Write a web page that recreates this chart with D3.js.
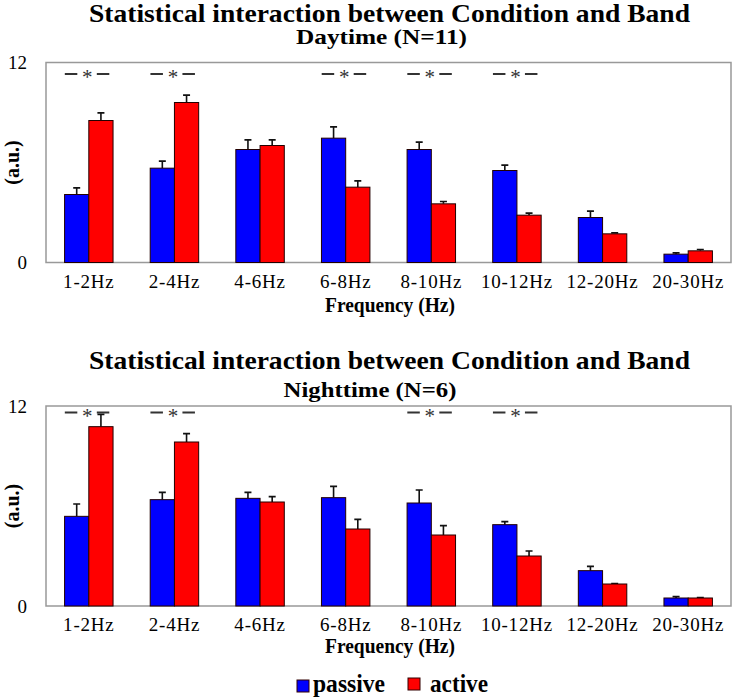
<!DOCTYPE html>
<html><head><meta charset="utf-8">
<script src="https://cdn.jsdelivr.net/npm/d3@7"></script>
<style>
body{margin:0;background:#fff;}
svg{display:block;}
text{font-family:"Liberation Serif","Times New Roman",serif;}
</style></head>
<body>
<svg id="c" width="735" height="699"></svg>
<script>
const categories = ["1-2Hz","2-4Hz","4-6Hz","6-8Hz","8-10Hz","10-12Hz","12-20Hz","20-30Hz"];
const series = ["passive","active"];
const colors = ["#0000FF","#FF0000"];
const yTicks = [0,12];

const dayPassive    = [4.08,5.66,6.78,7.46,6.78,5.52,2.70,0.50];
const dayPassiveErr = [0.40,0.42,0.58,0.68,0.44,0.32,0.38,0.08];
const dayActive     = [8.52,9.60,7.02,4.52,3.52,2.84,1.72,0.70];
const dayActiveErr  = [0.46,0.44,0.34,0.38,0.14,0.12,0.06,0.08];
const daySig = ["1-2Hz","2-4Hz","6-8Hz","8-10Hz","10-12Hz"];

const nightPassive    = [5.38,6.38,6.46,6.50,6.18,4.88,2.12,0.48];
const nightPassiveErr = [0.74,0.44,0.36,0.68,0.78,0.18,0.26,0.08];
const nightActive     = [10.76,9.84,6.24,4.62,4.26,3.00,1.32,0.48];
const nightActiveErr  = [0.74,0.50,0.32,0.58,0.56,0.30,0.02,0.03];
const nightSig = ["1-2Hz","2-4Hz","8-10Hz","10-12Hz"];

const svg = d3.select("#c");
const L = 46, R = 731;

function panel(cfg){
  const g = svg.append("g");
  const x0 = d3.scaleBand().domain(categories).range([L,R]).paddingInner(0.434).paddingOuter(0.217);
  const x1 = d3.scaleBand().domain(series).range([0,x0.bandwidth()]).padding(0);
  const y = d3.scaleLinear().domain([0,12]).range([cfg.bottom,cfg.top]);

  // titles
  g.append("text").attr("x",389.5).attr("y",cfg.titleY).attr("text-anchor","middle")
    .attr("font-weight","bold").attr("font-size",26).attr("textLength",601).attr("lengthAdjust","spacingAndGlyphs")
    .text("Statistical interaction between Condition and Band");
  g.append("text").attr("x",cfg.subX).attr("y",cfg.subY).attr("text-anchor","middle")
    .attr("font-weight","bold").attr("font-size",22).attr("textLength",cfg.subW).attr("lengthAdjust","spacingAndGlyphs")
    .text(cfg.subtitle);

  // frame
  g.append("rect").attr("x",L).attr("y",cfg.top).attr("width",R-L).attr("height",cfg.bottom-cfg.top)
    .attr("fill","none").attr("stroke","#999").attr("stroke-width",1.5);

  // y axis labels
  const ya = g.append("g").attr("transform",`translate(${L},0)`)
    .call(d3.axisLeft(y).tickValues(yTicks).tickSize(0).tickPadding(19).tickFormat(d3.format("d")));
  ya.select(".domain").remove();
  ya.selectAll("text").attr("font-size",19).attr("fill","#000")
    .style("font-family",'"Liberation Serif","Times New Roman",serif');

  g.append("text").attr("transform",`translate(19,${(cfg.top+cfg.bottom)/2}) rotate(-90)`)
    .attr("text-anchor","middle").attr("font-weight","bold").attr("font-size",20).text("(a.u.)");

  // bars
  const rows = categories.map((c,i)=>({cat:c, vals:[
    {s:"passive",v:cfg.passive[i],e:cfg.passiveErr[i],c:colors[0]},
    {s:"active",v:cfg.active[i],e:cfg.activeErr[i],c:colors[1]}]}));
  const grp = g.selectAll(".grp").data(rows).enter().append("g")
    .attr("transform",d=>`translate(${x0(d.cat)},0)`);
  grp.selectAll(".eb").data(d=>d.vals).enter().append("path")
    .attr("d",d=>{const cx=x1(d.s)+x1.bandwidth()/2, yt=y(d.v+d.e), yb=y(d.v);
      return `M${cx},${yb}V${yt}M${cx-3.5},${yt}H${cx+3.5}`;})
    .attr("stroke","#111").attr("stroke-width",1.6).attr("fill","none");
  grp.selectAll(".bar").data(d=>d.vals).enter().append("rect")
    .attr("x",d=>x1(d.s)).attr("width",x1.bandwidth())
    .attr("y",d=>y(d.v)).attr("height",d=>y(0)-y(d.v))
    .attr("fill",d=>d.c).attr("stroke","#220000").attr("stroke-width",1);

  // x labels
  const xa = g.append("g").attr("transform",`translate(0,${cfg.bottom})`)
    .call(d3.axisBottom(x0).tickSize(0).tickPadding(12));
  xa.select(".domain").remove();
  xa.selectAll("text").attr("font-size",19).attr("fill","#000").attr("letter-spacing",0.8)
    .style("font-family",'"Liberation Serif","Times New Roman",serif');

  g.append("text").attr("x",390).attr("y",cfg.xTitleY).attr("text-anchor","middle")
    .attr("font-weight","bold").attr("font-size",20).attr("textLength",130).attr("lengthAdjust","spacingAndGlyphs")
    .text("Frequency (Hz)");

  // significance markers
  const sy = cfg.sigY;
  const sg = g.selectAll(".sig").data(cfg.sig).enter().append("g")
    .attr("transform",d=>`translate(${x0(d)+x0.bandwidth()/2-1.5},${sy})`);
  sg.append("path").attr("d","M-22.5,0H-10M9.5,0H22").attr("stroke","#333").attr("stroke-width",1.8);
  sg.append("text").attr("x",0).attr("y",10).attr("text-anchor","middle").attr("font-size",21).attr("fill","#333").text("*");
}

panel({top:62.5,bottom:262.5,titleY:22,subY:44,subX:381.5,subW:171,subtitle:"Daytime (N=11)",
  xTitleY:312,sigY:74,passive:dayPassive,passiveErr:dayPassiveErr,active:dayActive,activeErr:dayActiveErr,sig:daySig});
panel({top:406,bottom:606,titleY:369,subY:397,subX:370,subW:173,subtitle:"Nighttime (N=6)",
  xTitleY:653,sigY:412.5,passive:nightPassive,passiveErr:nightPassiveErr,active:nightActive,activeErr:nightActiveErr,sig:nightSig});

// legend
const leg = svg.append("g");
const legItems = [{s:"passive",c:colors[0],x:297,y:680,tx:313,w:72},{s:"active",c:colors[1],x:408,y:678,tx:430,w:58}];
leg.selectAll("rect").data(legItems).enter().append("rect")
  .attr("x",d=>d.x).attr("y",d=>d.y).attr("width",12).attr("height",12)
  .attr("fill",d=>d.c).attr("stroke","#300").attr("stroke-width",1);
leg.selectAll("text").data(legItems).enter().append("text")
  .attr("x",d=>d.tx).attr("y",692).attr("font-weight","bold").attr("font-size",25)
  .attr("textLength",d=>d.w).attr("lengthAdjust","spacingAndGlyphs").text(d=>d.s);
</script>
</body></html>
